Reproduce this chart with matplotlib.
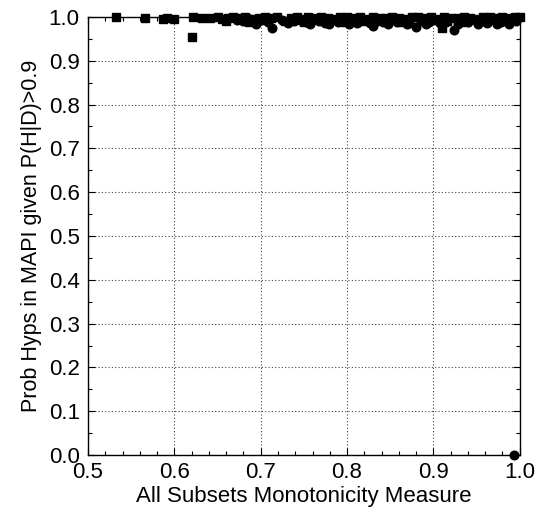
import matplotlib.pyplot as plt
from matplotlib.ticker import MultipleLocator

# squares: main series
sq_x = [0.533, 0.566, 0.587, 0.591, 0.600, 0.620, 0.622, 0.632, 0.641, 0.650,
        0.655, 0.662, 0.668, 0.675, 0.682, 0.690, 0.698, 0.705, 0.712, 0.719,
        0.735, 0.742, 0.748, 0.755, 0.762, 0.770, 0.778, 0.785, 0.792, 0.800,
        0.808, 0.815, 0.822, 0.830, 0.838, 0.845, 0.852, 0.860, 0.868, 0.875,
        0.882, 0.890, 0.897, 0.905, 0.910, 0.912, 0.920, 0.928, 0.935, 0.942,
        0.950, 0.958, 0.965, 0.972, 0.980, 0.988, 0.995, 1.000,
        0.660, 0.686, 0.702, 0.728, 0.750, 0.774, 0.796, 0.818, 0.842, 0.864,
        0.886, 0.916, 0.938, 0.962, 0.984]
sq_y = [1.000, 0.998, 0.995, 0.997, 0.996, 0.955, 1.000, 0.998, 0.997, 0.999,
        0.996, 0.998, 1.000, 0.997, 0.999, 0.996, 0.998, 1.000, 0.997, 0.999,
        0.998, 1.000, 0.996, 0.999, 0.997, 1.000, 0.998, 0.996, 0.999, 1.000,
        0.997, 0.999, 0.996, 1.000, 0.998, 0.997, 1.000, 0.998, 0.996, 0.999,
        1.000, 0.997, 0.999, 0.996, 0.975, 1.000, 0.998, 0.997, 1.000, 0.998,
        0.996, 0.999, 1.000, 0.997, 0.999, 0.998, 1.000, 1.000,
        0.991, 0.989, 0.992, 0.990, 0.988, 0.991, 0.989, 0.990, 0.992, 0.988,
        0.990, 0.991, 0.989, 0.990, 0.992]

# circles: second series
ci_x = [0.672, 0.680, 0.688, 0.700, 0.708, 0.713, 0.725, 0.738, 0.745, 0.752,
        0.760, 0.768, 0.775, 0.783, 0.790, 0.798, 0.805, 0.812, 0.820, 0.830,
        0.835, 0.842, 0.850, 0.858, 0.865, 0.872, 0.880, 0.887, 0.895, 0.902,
        0.915, 0.924, 0.932, 0.940, 0.948, 0.955, 0.962, 0.970, 0.978, 0.988,
        0.993,
        0.694, 0.732, 0.757, 0.779, 0.802, 0.826, 0.848, 0.869, 0.892, 0.908,
        0.928, 0.952, 0.974, 0.996]
ci_y = [0.993, 0.990, 0.995, 0.992, 0.988, 0.975, 0.994, 0.990, 0.993, 0.988,
        0.994, 0.991, 0.987, 0.993, 0.989, 0.994, 0.990, 0.987, 0.993, 0.980,
        0.991, 0.988, 0.994, 0.989, 0.992, 0.987, 0.977, 0.993, 0.989, 0.992,
        0.988, 0.970, 0.991, 0.988, 0.993, 0.990, 0.987, 0.992, 0.989, 0.985,
        0.000,
        0.984, 0.986, 0.983, 0.985, 0.984, 0.986, 0.983, 0.985, 0.984, 0.986,
        0.983, 0.985, 0.984, 0.990]

plt.rcParams['font.family'] = ['Liberation Sans', 'DejaVu Sans']

fig = plt.figure(figsize=(5.5, 5.15), dpi=100)
ax = fig.add_axes([0.16, 0.1165, 0.785, 0.8505])

ax.plot(sq_x, sq_y, linestyle='none', marker='s', markersize=5.2,
        color='black', clip_on=False, zorder=3)
ax.plot(ci_x, ci_y, linestyle='none', marker='o', markersize=6.2,
        color='black', clip_on=False, zorder=3)

ax.set_xlim(0.5, 1.0)
ax.set_ylim(0.0, 1.0)
ax.xaxis.set_major_locator(MultipleLocator(0.1))
ax.xaxis.set_minor_locator(MultipleLocator(0.02))
ax.yaxis.set_major_locator(MultipleLocator(0.1))
ax.yaxis.set_minor_locator(MultipleLocator(0.05))
ax.xaxis.set_major_formatter(plt.FormatStrFormatter('%.1f'))
ax.yaxis.set_major_formatter(plt.FormatStrFormatter('%.1f'))

ax.tick_params(which='both', direction='in', top=True, right=True,
               labelsize=16, width=0.8)
ax.tick_params(which='major', length=5)
ax.tick_params(axis='x', which='major', pad=5)
ax.tick_params(axis='y', which='major', pad=6)
ax.tick_params(which='minor', length=3)

ax.grid(True, which='major', linestyle=(0, (1, 2)), color='#444444',
        linewidth=0.8)
for s in ax.spines.values():
    s.set_linewidth(1.0)

ax.set_xlabel('All Subsets Monotonicity Measure', fontsize=16, labelpad=2)
ax.set_ylabel('Prob Hyps in MAPI given P(H|D)>0.9', fontsize=15.5, labelpad=5)

fig.savefig('out.png', dpi=100)
